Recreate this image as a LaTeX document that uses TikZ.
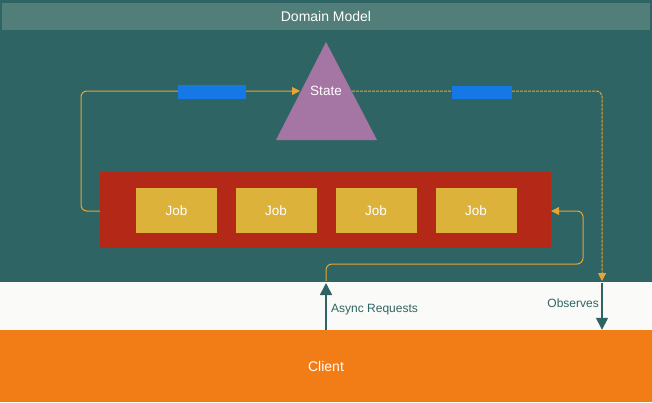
\documentclass[tikz,border=0pt]{standalone}
\usepackage{fontspec}
\setmainfont{Liberation Sans}
\usetikzlibrary{arrows.meta,shapes.geometric}
\definecolor{teal}{RGB}{47,100,100}
\definecolor{hdr}{RGB}{82,126,121}
\definecolor{band}{RGB}{250,250,248}
\definecolor{clientc}{RGB}{242,125,23}
\definecolor{redc}{RGB}{180,40,24}
\definecolor{jobc}{RGB}{220,178,58}
\definecolor{tri}{RGB}{165,117,163}
\definecolor{bluec}{RGB}{20,120,230}
\definecolor{flow}{RGB}{230,165,55}
\begin{document}
\begin{tikzpicture}[x=1pt,y=-1pt,
  every node/.style={font=\fontsize{12}{14}\selectfont},
  bigtext/.style={font=\fontsize{14}{16}\selectfont},
  midtext/.style={font=\fontsize{13.5}{16}\selectfont},
  jobbox/.style={midtext,fill=jobc,draw=none,minimum width=81pt,minimum height=45pt,text=white,inner sep=0pt},
  bluebox/.style={fill=bluec,draw=none,inner sep=0pt},
  flowline/.style={draw=flow,line width=1pt,rounded corners=6pt},
  flowtip/.style={-{Triangle[length=8pt,width=8pt]}},
  teallink/.style={draw=teal,line width=1.5pt,-{Triangle[length=12pt,width=12pt]}}]
\useasboundingbox (0,0) rectangle (652,402);
% backgrounds
\fill[teal] (0,0) rectangle (652,282);
\fill[hdr] (2,3) rectangle (650,30);
\node[bigtext,text=white] (title) at (326,16) {Domain Model};
\fill[band] (0,282) rectangle (652,330);
\node[bigtext,fill=clientc,minimum width=652pt,minimum height=72pt,inner sep=0pt,text=white] (client) at (326,366) {Client};
% state triangle
\fill[tri] (326,42) -- (377,140) -- (276,140) -- cycle;
\node[midtext,text=white,inner sep=0pt] (state) at (326,91) {State};
\coordinate (stateL) at (300,91);
\coordinate (stateR) at (352,91);
% red box and jobs
\node[fill=redc,minimum width=451pt,minimum height=76pt,inner sep=0pt] (red) at (325.5,210) {};
\node[jobbox] (j1) at (176.5,210.5) {Job};
\node[jobbox] (j2) at (276,210.5) {Job};
\node[jobbox] (j3) at (376,210.5) {Job};
\node[jobbox] (j4) at (476,210.5) {Job};
% flow lines
\coordinate (a1) at (81,211);
\coordinate (a2) at (81,91);
\draw[flowline,flowtip] (red.west |- a1) -- (a1) -- (a2) -- (stateL);
\coordinate (b1) at (602,91);
\coordinate (b2) at (602,281);
\draw[flowline,dashed,dash pattern=on 3pt off 1pt,flowtip] (stateR) -- (b1) -- (b2);
\coordinate (c0) at (326,281);
\coordinate (c1) at (326,264);
\coordinate (c2) at (583,264);
\coordinate (c3) at (583,211);
\draw[flowline,flowtip] (c0) -- (c1) -- (c2) -- (c3) -- (red.east |- c3);
% blue labels on lines
\node[bluebox,minimum width=68pt,minimum height=14pt] (bl1) at (212,92) {};
\node[bluebox,minimum width=60pt,minimum height=13pt] (bl2) at (482,92.5) {};
% client links
\coordinate (async) at (326,283);
\coordinate (obs) at (602,283);
\draw[teallink] (client.north -| async) -- (async);
\draw[teallink] (obs) -- (client.north -| obs);
\node[text=teal,anchor=west,inner sep=0pt] (asynclbl) at (331,310) {Async Requests};
\node[text=teal,anchor=east,inner sep=0pt] (obslbl) at (599,303) {Observes};
\end{tikzpicture}
\end{document}
